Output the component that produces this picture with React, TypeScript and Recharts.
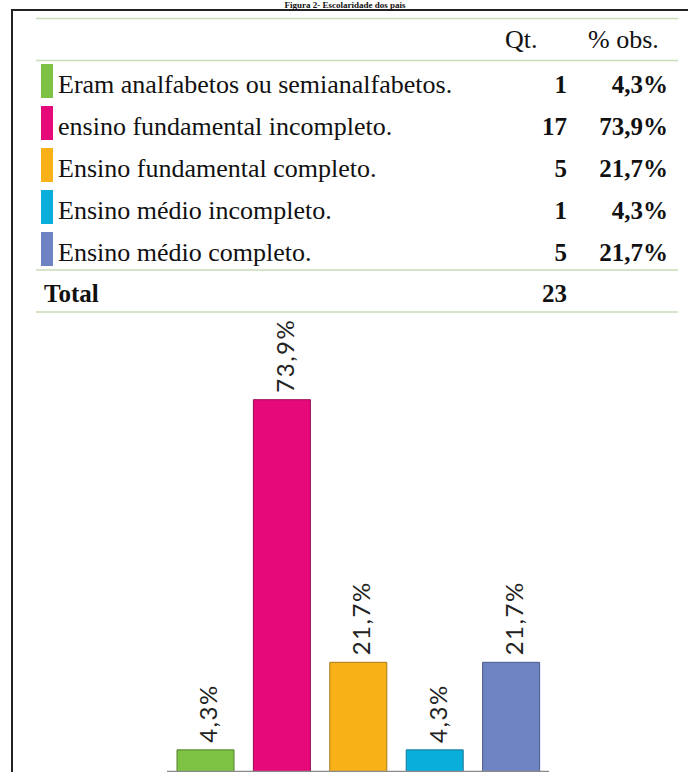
import { BarChart, Bar, XAxis, YAxis, Cell, LabelList } from "recharts";

const categories = [
  "Eram analfabetos ou semianalfabetos.",
  "ensino fundamental incompleto.",
  "Ensino fundamental completo.",
  "Ensino médio incompleto.",
  "Ensino médio completo.",
];
const counts = [1, 17, 5, 1, 5];
const percents = [4.3, 73.9, 21.7, 4.3, 21.7];
const total = 23;
const colors = ["#7DC243", "#E6097A", "#F9B118", "#0AAEDA", "#6E83C2"];
const strokes = ["#557F30", "#9A0A55", "#A77A18", "#1A7896", "#4A5A8C"];

const data = categories.map((name, i) => ({ name, qt: counts[i], pct: percents[i] }));

const fmt = (v: number) => v.toFixed(1).replace(".", ",") + "%";

const serif = "'Liberation Serif', 'Times New Roman', serif";
const lineColor = "#C9DDB8";

const renderLabel = (props: any) => {
  const x = Number(props.x);
  const y = Number(props.y);
  const w = Number(props.width);
  const cx = x + w / 2 + 12;
  const cy = y - 7;
  return (
    <text
      x={cx}
      y={cy}
      transform={`rotate(-90 ${cx} ${cy})`}
      fontFamily="Lato, sans-serif"
      fontSize={24}
      letterSpacing={1.5}
      fill="#222"
    >
      {fmt(Number(props.value))}
    </text>
  );
};

const Table = () => {
  const rowTop = 60;
  const pitch = 42;
  return (
    <svg width={688} height={772} style={{ position: "absolute", left: 0, top: 0, pointerEvents: "none" }}>
      {/* title is mostly cropped off in the source, keep it small so it stays readable */}
      <text x={345} y={8} textAnchor="middle" fontFamily={serif} fontWeight="bold" fontSize={9} fill="#111">
        Figura 2- Escolaridade dos pais
      </text>
      <line x1={36} x2={678} y1={18.5} y2={18.5} stroke={lineColor} strokeWidth={1.5} />
      <text x={505} y={48} fontFamily={serif} fontSize={26} fill="#111">Qt.</text>
      <text x={588} y={48} fontFamily={serif} fontSize={26} fill="#111">% obs.</text>
      <line x1={36} x2={678} y1={60.5} y2={60.5} stroke={lineColor} strokeWidth={1.5} />
      {categories.map((c, i) => {
        const top = rowTop + i * pitch;
        return (
          <g key={c}>
            <rect x={41} y={top + 4} width={12} height={34} fill={colors[i]} />
            <text x={58} y={top + 32.5} fontFamily={serif} fontSize={26} fill="#111">{c}</text>
            <text x={567} y={top + 32.5} textAnchor="end" fontFamily={serif} fontWeight="bold" fontSize={25} fill="#111">
              {counts[i]}
            </text>
            <text x={668} y={top + 32.5} textAnchor="end" fontFamily={serif} fontWeight="bold" fontSize={25} fill="#111">
              {fmt(percents[i])}
            </text>
          </g>
        );
      })}
      <line x1={36} x2={678} y1={270} y2={270} stroke={lineColor} strokeWidth={1.5} />
      <text x={44} y={301.5} fontFamily={serif} fontWeight="bold" fontSize={25} fill="#111">Total</text>
      <text x={567} y={301.5} textAnchor="end" fontFamily={serif} fontWeight="bold" fontSize={25} fill="#111">{total}</text>
      <line x1={36} x2={678} y1={312} y2={312} stroke={lineColor} strokeWidth={1.5} />
    </svg>
  );
};

export default function App() {
  return (
    <div style={{ position: "fixed", left: 0, top: 0, width: 688, height: 772, overflow: "hidden", background: "#fff" }}>
      <div
        style={{
          position: "absolute",
          left: 11,
          top: 9,
          width: 720,
          height: 820,
          border: "2.5px solid #222",
          boxSizing: "border-box",
        }}
      />
      <div style={{ position: "absolute", left: 0, top: 0 }}>
        <BarChart width={688} height={800} data={data} margin={{ top: 369, right: 139, bottom: 0, left: 167 }}>
          <XAxis dataKey="name" tick={false} tickLine={false} height={28.5} axisLine={{ stroke: "#8a8a8a", strokeWidth: 1.5 }} />
          <YAxis hide domain={[0, 80]} />
          <Bar dataKey="pct" barSize={57} strokeWidth={1} isAnimationActive={false}>
            {data.map((d, i) => (
              <Cell key={d.name} fill={colors[i]} stroke={strokes[i]} />
            ))}
            <LabelList dataKey="pct" content={renderLabel} />
          </Bar>
        </BarChart>
      </div>
      <Table />
    </div>
  );
}
